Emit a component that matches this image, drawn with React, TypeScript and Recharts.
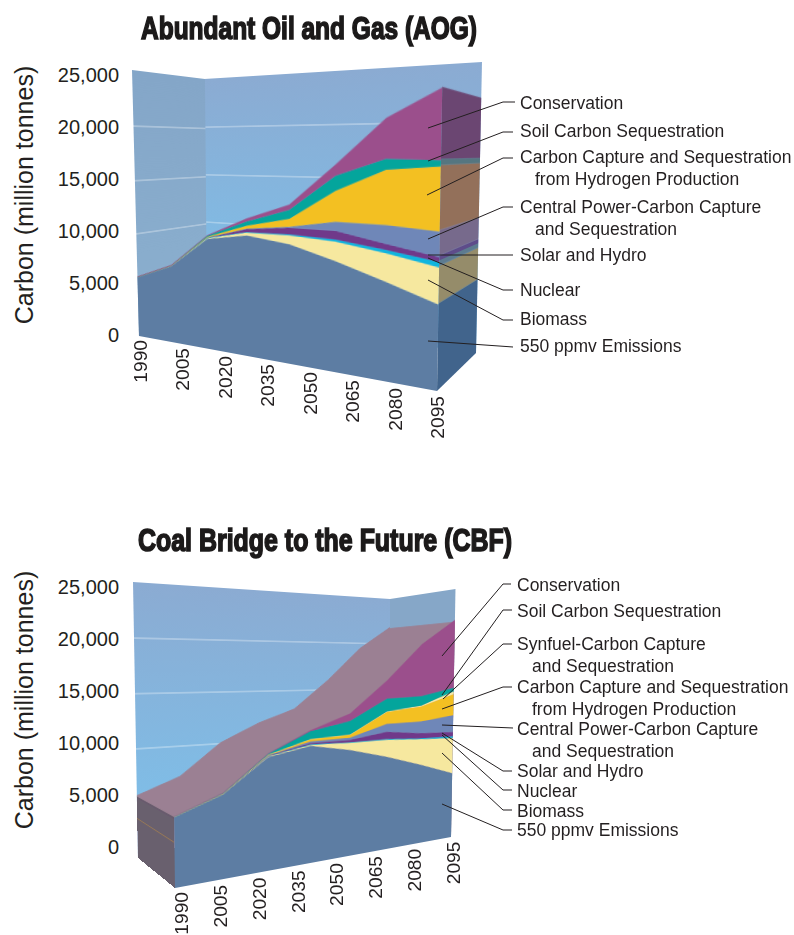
import React from "react"
import { Area, AreaChart, Line, LineChart, ReferenceLine, XAxis, YAxis } from "recharts"

const years = ["1990", "2005", "2020", "2035", "2050", "2065", "2080", "2095"]
const yTicks = [0, 5000, 10000, 15000, 20000, 25000]
const gridTicks = [5000, 10000, 15000, 20000]
const wallCeiling = [25000, 25000]

// Abundant Oil and Gas
const aogEmissions = [5700, 7100, 9900, 10450, 10000, 8950, 7750, 6450]
const aogBiomass = [0, 20, 60, 250, 730, 1560, 2170, 2730]
const aogNuclear = [0, 10, 30, 60, 80, 150, 250, 400]
const aogSolar = [10, 10, 20, 250, 550, 700, 450, 350]
const aogCentral = [0, 10, 20, 40, 80, 700, 1420, 1870]
const aogHydrogen = [0, 10, 60, 250, 650, 2420, 4120, 4660]
const aogSoil = [0, 10, 70, 340, 730, 1170, 820, 430]
const aogConservation = [30, 30, 40, 250, 400, 860, 3000, 5090]

// Coal Bridge to the Future
const cbfEmissions = [5700, 7050, 9800, 10450, 9800, 8850, 7750, 6550]
const cbfBiomass = [0, 10, 60, 90, 650, 1600, 2490, 3550]
const cbfNuclear = [0, 10, 20, 60, 60, 100, 100, 200]
const cbfSolar = [0, 10, 30, 100, 200, 660, 490, 400]
const cbfCentral = [0, 10, 30, 150, 200, 750, 1140, 1700]
const cbfHydrogen = [0, 10, 40, 200, 270, 1130, 1460, 2100]
const cbfSynfuel = [0, 5, 10, 20, 20, 30, 100, 300]
const cbfSoil = [0, 30, 80, 670, 1245, 1220, 900, 350]
const cbfConservation = [30, 20, 10, 80, 660, 1690, 5000, 6700]

type Pt = [number, number]
type Quad = [Pt, Pt, Pt, Pt] // top left, top right, bottom right, bottom left
type Band = { key: string; front: string; side: string; values: number[] }

const aogBands: Band[] = [
  { key: "emissions", front: "#5d7da3", side: "#41648c", values: aogEmissions },
  { key: "biomass", front: "#f6e89f", side: "#958c6a", values: aogBiomass },
  { key: "nuclear", front: "#10b5de", side: "#5d7b90", values: aogNuclear },
  { key: "solar", front: "#70398a", side: "#5e4c8a", values: aogSolar },
  { key: "central", front: "#6f87b8", side: "#776a8c", values: aogCentral },
  { key: "hydrogen", front: "#f3c022", side: "#93705a", values: aogHydrogen },
  { key: "soil", front: "#04a59c", side: "#557680", values: aogSoil },
  { key: "conservation", front: "#9b4f8c", side: "#6b4672", values: aogConservation },
]

const cbfBands: Band[] = [
  { key: "emissions", front: "#5d7da3", side: "#69606e", values: cbfEmissions },
  { key: "biomass", front: "#f6e89f", side: "#69606e", values: cbfBiomass },
  { key: "nuclear", front: "#10b5de", side: "#69606e", values: cbfNuclear },
  { key: "solar", front: "#70398a", side: "#69606e", values: cbfSolar },
  { key: "central", front: "#6f87b8", side: "#69606e", values: cbfCentral },
  { key: "hydrogen", front: "#f3c022", side: "#69606e", values: cbfHydrogen },
  { key: "synfuel", front: "#f8eaa8", side: "#69606e", values: cbfSynfuel },
  { key: "soil", front: "#04a59c", side: "#69606e", values: cbfSoil },
  { key: "conservation", front: "#9b4f8c", side: "#69606e", values: cbfConservation },
]

const aogNotes = [
  { lines: ["Conservation"], at: [520, 103], path: "428,128 503,102 515,102" },
  { lines: ["Soil Carbon Sequestration"], at: [520, 131], path: "428,161 503,132 513,132" },
  { lines: ["Carbon Capture and Sequestration", "from Hydrogen Production"], at: [520, 157], path: "427,195 503,158 513,158" },
  { lines: ["Central Power-Carbon Capture", "and Sequestration"], at: [520, 207], path: "428,239 503,207 513,207" },
  { lines: ["Solar and Hydro"], at: [520, 255], path: "428,255 513,255" },
  { lines: ["Nuclear"], at: [520, 290], path: "428,258 503,290 513,290" },
  { lines: ["Biomass"], at: [520, 319], path: "428,280 503,320 513,320" },
  { lines: ["550 ppmv Emissions"], at: [520, 346], path: "428,341 513,347" },
]

const cbfNotes = [
  { lines: ["Conservation"], at: [517, 585], path: "442,656 503,584 511,584" },
  { lines: ["Soil Carbon Sequestration"], at: [517, 611], path: "442,695 503,610 512,610" },
  { lines: ["Synfuel-Carbon Capture", "and Sequestration"], at: [517, 644], path: "443,699 503,644 512,644" },
  { lines: ["Carbon Capture and Sequestration", "from Hydrogen Production"], at: [517, 687], path: "442,709 503,687 512,687" },
  { lines: ["Central Power-Carbon Capture", "and Sequestration"], at: [517, 729], path: "442,725 513,728" },
  { lines: ["Solar and Hydro"], at: [517, 771], path: "442,733 503,771 512,771" },
  { lines: ["Nuclear"], at: [517, 791], path: "442,735 503,790 512,790" },
  { lines: ["Biomass"], at: [517, 811], path: "442,753 503,810 512,810" },
  { lines: ["550 ppmv Emissions"], at: [517, 830], path: "442,804 503,830 512,830" },
]

const SANS = "'Liberation Sans', Arial, sans-serif"
const INK = "#231f20"
const PLANE = 300

// maps the PLANE x PLANE chart box on to a quad on the page
const quadMatrix = (q: Quad) => {
  const [[x0, y0], [x1, y1], [x2, y2], [x3, y3]] = q
  const dx1 = x1 - x2
  const dx2 = x3 - x2
  const dy1 = y1 - y2
  const dy2 = y3 - y2
  const sx = x0 - x1 + x2 - x3
  const sy = y0 - y1 + y2 - y3
  const den = dx1 * dy2 - dx2 * dy1
  const g = (sx * dy2 - dx2 * sy) / den
  const h = (dx1 * sy - sx * dy1) / den
  const a = x1 - x0 + g * x1
  const b = x3 - x0 + h * x3
  const d = y1 - y0 + g * y1
  const e = y3 - y0 + h * y3
  const s = PLANE
  return `matrix3d(${a / s},${d / s},0,${g / s},${b / s},${e / s},0,${h / s},0,0,1,0,${x0},${y0},0,1)`
}

const Plane: React.FC<{ quad: Quad; children: React.ReactNode }> = ({ quad, children }) => (
  <div
    style={{
      position: "absolute",
      left: 0,
      top: 0,
      width: PLANE,
      height: PLANE,
      transformOrigin: "0 0",
      transform: quadMatrix(quad),
    }}
  >
    {children}
  </div>
)

const noMargin = { top: 0, right: 0, bottom: 0, left: 0 }

const Wall: React.FC<{ id: string; quad: Quad; top: string; bottom: string; grid?: boolean }> = ({ id, quad, top, bottom, grid = true }) => (
  <Plane quad={quad}>
    <AreaChart width={PLANE} height={PLANE} margin={noMargin} data={wallCeiling.map((v, i) => ({ i, v }))}>
      <defs>
        <linearGradient id={id} x1="0" y1="0" x2="0" y2="1">
          <stop offset="0%" stopColor={top} />
          <stop offset="100%" stopColor={bottom} />
        </linearGradient>
      </defs>
      <XAxis dataKey="i" hide scale="point" />
      <YAxis hide domain={[0, 25000]} />
      <Area dataKey="v" type="linear" stroke="none" fill={`url(#${id})`} fillOpacity={1} isAnimationActive={false} />
      {grid && gridTicks.map((t) => (
        <ReferenceLine key={t} y={t} stroke="#ffffff" strokeOpacity={0.6} strokeWidth={1} />
      ))}
    </AreaChart>
  </Plane>
)

const Stack: React.FC<{ quad: Quad; bands: Band[]; columns: number[]; color: "front" | "side"; mark?: number }> = ({ quad, bands, columns, color, mark }) => {
  const rows = columns.map((c, i) => {
    const row: Record<string, number> = { i }
    bands.forEach((b) => { row[b.key] = b.values[c] })
    return row
  })
  return (
    <Plane quad={quad}>
      <AreaChart width={PLANE} height={PLANE} margin={noMargin} data={rows}>
        <XAxis dataKey="i" hide scale="point" />
        <YAxis hide domain={[0, 25000]} allowDataOverflow />
        {bands.map((b) => (
          <Area
            key={b.key}
            dataKey={b.key}
            stackId="carbon"
            type="linear"
            stroke={b[color]}
            strokeWidth={0.4}
            fill={b[color]}
            fillOpacity={1}
            isAnimationActive={false}
          />
        ))}
        {mark !== undefined && <ReferenceLine y={mark} stroke="#9a7a55" strokeWidth={1} />}
      </AreaChart>
    </Plane>
  )
}

const totals = (bands: Band[]) => years.map((_, c) => bands.reduce((sum, b) => sum + b.values[c], 0))

const Silhouette: React.FC<{ quad: Quad; values: number[]; fill: string }> = ({ quad, values, fill }) => (
  <Plane quad={quad}>
    <AreaChart width={PLANE} height={PLANE} margin={noMargin} data={values.map((total, i) => ({ i, total }))}>
      <XAxis dataKey="i" hide scale="point" />
      <YAxis hide domain={[0, 25000]} />
      <Area dataKey="total" type="linear" stroke={fill} fill={fill} fillOpacity={1} isAnimationActive={false} />
    </AreaChart>
  </Plane>
)

const YearAxis: React.FC<{ firstX: number; lastX: number; top: number; start: number; step: number }> = ({ firstX, lastX, top, start, step }) => {
  const pad = 20
  const renderTick = (p: any) => (
    <text
      transform={`translate(${p.x + 7},${start + p.index * step}) rotate(-90)`}
      textAnchor="end"
      fontFamily={SANS}
      fontSize={19.2}
      fill={INK}
    >
      {p.payload.value}
    </text>
  )
  return (
    <div style={{ position: "absolute", left: firstX - pad, top }}>
      <LineChart
        width={lastX - firstX + pad * 2}
        height={110}
        margin={{ top: 0, right: pad, bottom: 0, left: pad }}
        data={years.map((year) => ({ year, v: 0 }))}
      >
        <XAxis dataKey="year" interval={0} tick={renderTick} axisLine={false} tickLine={false} height={10} />
        <YAxis hide domain={[0, 1]} />
        <Line dataKey="v" stroke="none" dot={false} isAnimationActive={false} />
      </LineChart>
    </div>
  )
}

const CarbonAxis: React.FC<{ top: number; titleShift: number }> = ({ top, titleShift }) => (
  <div style={{ position: "absolute", left: 0, top: top - 40 }}>
    <LineChart width={130} height={320} margin={{ top: 40, right: 0, bottom: 20, left: 0 }} data={[{ i: 0, v: 0 }]}>
      <XAxis dataKey="i" hide />
      <YAxis
        width={119}
        domain={[0, 25000]}
        ticks={yTicks}
        interval={0}
        tickFormatter={(v: number) => v.toLocaleString("en-US")}
        tick={{ fill: INK, fontSize: 20, fontFamily: SANS }}
        tickMargin={0}
        tickSize={0}
        axisLine={false}
        tickLine={false}
        label={{
          value: "Carbon (million tonnes)",
          angle: -90,
          position: "insideLeft",
          offset: 24,
          dy: titleShift,
          style: { fill: INK, fontSize: 25, fontFamily: SANS, textAnchor: "middle" },
        }}
      />
      <Line dataKey="v" stroke="none" dot={false} isAnimationActive={false} />
    </LineChart>
  </div>
)

const Notes: React.FC<{ notes: typeof aogNotes }> = ({ notes }) => (
  <>
    {notes.map((n) => (
      <g key={n.lines[0]}>
        <polyline points={n.path} fill="none" stroke={INK} strokeWidth={1} />
        {n.lines.map((line, i) => (
          <text
            key={line}
            x={n.at[0] + (i ? 15 : 0)}
            y={n.at[1] + 6 + i * 22}
            fontFamily={SANS}
            fontSize={17.5}
            fill={INK}
          >
            {line}
          </text>
        ))}
      </g>
    ))}
  </>
)

const Title: React.FC<{ x: number; y: number; width: number; text: string }> = ({ x, y, width, text }) => (
  <text
    x={x}
    y={y}
    textLength={width}
    lengthAdjust="spacingAndGlyphs"
    fontFamily="'Liberation Sans Narrow', 'Liberation Sans', sans-serif"
    fontWeight={700}
    fontSize={31}
    fill="#1c1a1a"
    stroke="#1c1a1a"
    strokeWidth={1.6}
  >
    {text}
  </text>
)

const last = [7, 7]
const first = [0, 0]

export default function App() {
  return (
    <div style={{ position: "absolute", left: 0, top: 0, width: 794, height: 935, overflow: "hidden", background: "#fff" }}>
      {/* top chart */}
      <Wall id="aogBack" quad={[[204, 79], [482, 62], [476, 353], [206, 315]]} top="#8babd2" bottom="#7cc2ec" />
      <Wall id="aogLeft" quad={[[132, 70], [205, 79], [207, 315], [139, 336]]} top="#84a6c8" bottom="#8bb0cf" />
      <Stack quad={[[132, 70], [443, 44], [437, 391], [139, 336]]} bands={aogBands} columns={[0, 1, 2, 3, 4, 5, 6, 7]} color="front" />
      <Stack quad={[[443, 44], [482, 62], [476, 353], [437, 391]]} bands={aogBands} columns={last} color="side" />
      <CarbonAxis top={75} titleShift={-10} />
      <YearAxis firstX={140} lastX={437} top={340} start={0} step={8} />

      {/* bottom chart */}
      <Wall id="cbfBack" quad={[[133, 582], [390, 599], [390, 821], [138, 858]]} top="#8babd2" bottom="#7cc2ec" />
      <Wall id="cbfRight" quad={[[390, 599], [455.5, 589], [451, 837], [390, 821]]} top="#86a7c8" bottom="#86a7c8" grid={false} />
      <Silhouette quad={[[133, 582], [390, 599], [390, 821], [138, 858]]} values={totals(cbfBands)} fill="#9b8093" />
      <Silhouette quad={[[390, 599], [455.5, 589], [451, 837], [390, 821]]} values={[totals(cbfBands)[7], totals(cbfBands)[7]]} fill="#9b8093" />
      <Stack quad={[[133, 582], [171, 568], [175, 888], [138, 858]]} bands={cbfBands} columns={first} color="side" mark={3700} />
      <Stack quad={[[171, 568], [455.5, 588], [451, 837], [175, 888]]} bands={cbfBands} columns={[0, 1, 2, 3, 4, 5, 6, 7]} color="front" />
      <CarbonAxis top={587} titleShift={-17} />
      <YearAxis firstX={181} lastX={453} top={835} start={57} step={-7.2} />

      <svg width={794} height={935} style={{ position: "absolute", left: 0, top: 0 }}>
        <Title x={141} y={39} width={336} text="Abundant Oil and Gas (AOG)" />
        <Title x={138} y={551} width={374} text="Coal Bridge to the Future (CBF)" />
        <Notes notes={aogNotes} />
        <Notes notes={cbfNotes} />
      </svg>
    </div>
  )
}
